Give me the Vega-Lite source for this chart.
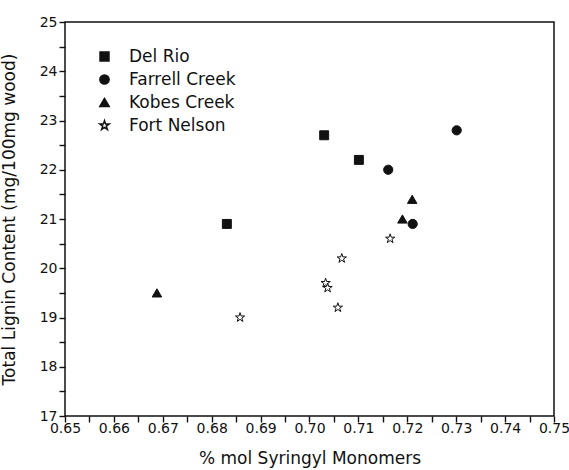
{
  "$schema": "https://vega.github.io/schema/vega-lite/v6.json",
  "width": 489,
  "height": 394,
  "autosize": {"type": "none"},
  "padding": {"left": 65, "top": 22, "right": 15, "bottom": 54},
  "background": "white",
  "config": {
    "view": {"stroke": "#111", "strokeWidth": 1.5},
    "font": "DejaVu Sans"
  },
  "data": {"values": [
    {"site": "Del Rio", "s": 0.7030, "lignin": 22.7},
    {"site": "Del Rio", "s": 0.7101, "lignin": 22.2},
    {"site": "Del Rio", "s": 0.6831, "lignin": 20.9},
    {"site": "Farrell Creek", "s": 0.7301, "lignin": 22.8},
    {"site": "Farrell Creek", "s": 0.7161, "lignin": 22.0},
    {"site": "Farrell Creek", "s": 0.7211, "lignin": 20.9},
    {"site": "Kobes Creek", "s": 0.7210, "lignin": 21.4},
    {"site": "Kobes Creek", "s": 0.7190, "lignin": 21.0},
    {"site": "Kobes Creek", "s": 0.6688, "lignin": 19.5},
    {"site": "Fort Nelson", "s": 0.7165, "lignin": 20.6},
    {"site": "Fort Nelson", "s": 0.7066, "lignin": 20.2},
    {"site": "Fort Nelson", "s": 0.7033, "lignin": 19.7},
    {"site": "Fort Nelson", "s": 0.7037, "lignin": 19.6},
    {"site": "Fort Nelson", "s": 0.7058, "lignin": 19.2},
    {"site": "Fort Nelson", "s": 0.6858, "lignin": 19.0}
  ]},
  "mark": {"type": "point", "filled": true, "stroke": "#111", "strokeWidth": 1, "opacity": 1},
  "encoding": {
    "x": {"field": "s", "type": "quantitative",
      "scale": {"domain": [0.65, 0.75], "nice": false, "zero": false},
      "axis": {"orient": "bottom", "grid": false, "domain": false, "tickCount": 20, "labelOverlap": false, "labelFlush": false,
        "labelExpr": "abs(round(datum.value*100) - datum.value*100) < 0.01 ? format(datum.value, '.2f') : ''",
        "labelFont": "DejaVu Sans", "labelFontSize": 14, "labelColor": "#111",
        "tickColor": "#111", "tickWidth": 1.4, "tickSize": 6, "labelPadding": -1,
        "encode": {"ticks": {"update": {"y": {"value": 0}, "y2": {"signal": "abs(round(datum.value*100) - datum.value*100) < 0.01 ? -6 : -3"}}}},
        "title": "% mol Syringyl Monomers", "titleFont": "DejaVu Sans", "titleFontWeight": "normal", "titleFontSize": 17, "titleColor": "#111", "titlePadding": 15}},
    "y": {"field": "lignin", "type": "quantitative",
      "scale": {"domain": [17, 25], "nice": false, "zero": false},
      "axis": {"orient": "left", "grid": false, "domain": false, "tickCount": 16, "labelOverlap": false, "labelFlush": false,
        "labelExpr": "abs(round(datum.value) - datum.value) < 0.01 ? format(datum.value, 'd') : ''",
        "labelFont": "DejaVu Sans", "labelFontSize": 14, "labelColor": "#111",
        "tickColor": "#111", "tickWidth": 1.4, "tickSize": 6, "labelPadding": 2,
        "encode": {"ticks": {"update": {"x": {"value": 0}, "x2": {"signal": "abs(round(datum.value) - datum.value) < 0.01 ? 6 : 3"}}}},
        "title": "Total Lignin Content (mg/100mg wood)", "titleFont": "DejaVu Sans", "titleFontWeight": "normal", "titleFontSize": 17, "titleColor": "#111", "titlePadding": 21}},
    "shape": {"field": "site", "type": "nominal",
      "scale": {"domain": ["Del Rio", "Farrell Creek", "Kobes Creek", "Fort Nelson"],
        "range": ["square", "circle", "triangle-up", "M0,-1L0.2245,-0.309L0.951,-0.309L0.363,0.118L0.588,0.809L0,0.382L-0.588,0.809L-0.363,0.118L-0.951,-0.309L-0.2245,-0.309Z"]},
      "legend": {"orient": "none", "legendX": 31, "legendY": 26, "title": null, "labelFontSize": 17, "labelFont": "DejaVu Sans", "labelColor": "#111", "labelOffset": 16, "rowPadding": 5,
        "encode": {"symbols": {"update": {"stroke": {"value": "#111"}, "strokeWidth": {"value": 1}}}}}},
    "fill": {"field": "site", "type": "nominal",
      "scale": {"domain": ["Del Rio", "Farrell Creek", "Kobes Creek", "Fort Nelson"], "range": ["#111", "#111", "#111", "white"]},
      "legend": {"orient": "none", "legendX": 31, "legendY": 26, "title": null, "labelFontSize": 17, "labelFont": "DejaVu Sans", "labelColor": "#111", "labelOffset": 16, "rowPadding": 5,
        "encode": {"symbols": {"update": {"stroke": {"value": "#111"}, "strokeWidth": {"value": 1}}}}}},
    "size": {"field": "site", "type": "nominal",
      "scale": {"domain": ["Del Rio", "Farrell Creek", "Kobes Creek", "Fort Nelson"], "range": [80, 95, 130, 160]},
      "legend": {"orient": "none", "legendX": 31, "legendY": 26, "title": null, "labelFontSize": 17, "labelFont": "DejaVu Sans", "labelColor": "#111", "labelOffset": 16, "rowPadding": 5,
        "encode": {"symbols": {"update": {"stroke": {"value": "#111"}, "strokeWidth": {"value": 1}}}}}}
  }
}
